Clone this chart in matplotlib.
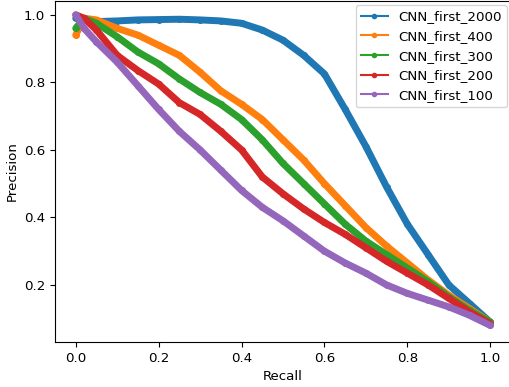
import matplotlib
matplotlib.use("Agg")
import matplotlib.pyplot as plt
from matplotlib.lines import Line2D

plt.rcParams["font.size"] = 9.6

# recall grid
recall = [0.0, 0.02, 0.05, 0.10, 0.15, 0.20, 0.25, 0.30, 0.35, 0.40, 0.45,
          0.50, 0.55, 0.60, 0.65, 0.70, 0.75, 0.80, 0.85, 0.90, 0.95, 1.0]

prec_2000 = [0.99, 0.985, 0.98, 0.982, 0.985, 0.986, 0.987, 0.985, 0.982, 0.975, 0.955,
             0.925, 0.88, 0.825, 0.72, 0.61, 0.49, 0.38, 0.29, 0.20, 0.145, 0.09]
prec_400 = [0.94, 0.99, 0.985, 0.96, 0.94, 0.91, 0.88, 0.83, 0.775, 0.735, 0.69,
            0.63, 0.57, 0.50, 0.435, 0.37, 0.315, 0.265, 0.215, 0.17, 0.13, 0.09]
prec_300 = [0.96, 0.99, 0.975, 0.935, 0.89, 0.855, 0.81, 0.77, 0.735, 0.69, 0.63,
            0.56, 0.50, 0.44, 0.38, 0.33, 0.29, 0.25, 0.21, 0.165, 0.125, 0.09]
prec_200 = [1.0, 0.99, 0.955, 0.88, 0.835, 0.795, 0.74, 0.705, 0.655, 0.60, 0.52,
            0.47, 0.425, 0.385, 0.35, 0.31, 0.27, 0.235, 0.20, 0.16, 0.12, 0.085]
prec_100 = [1.0, 0.96, 0.92, 0.86, 0.79, 0.72, 0.655, 0.60, 0.54, 0.48, 0.43,
            0.39, 0.345, 0.30, 0.265, 0.235, 0.20, 0.175, 0.155, 0.135, 0.11, 0.08]

labels = ["CNN_first_2000", "CNN_first_400", "CNN_first_300", "CNN_first_200", "CNN_first_100"]
series = [prec_2000, prec_400, prec_300, prec_200, prec_100]
colors = ["#1f77b4", "#ff7f0e", "#2ca02c", "#d62728", "#9467bd"]

fig = plt.figure(figsize=(5.09, 3.87), dpi=100)
ax = fig.add_axes([55 / 509, 45 / 387, 456 / 509, 341 / 387])

for p, c in zip(series, colors):
    ax.plot(recall, p, color=c, linewidth=5, marker=".", markersize=8,
            solid_joinstyle="round", solid_capstyle="round")

ax.set_xlim(-0.05, 1.05)
ax.set_ylim(0.031, 1.041)
ax.set_xticks([0.0, 0.2, 0.4, 0.6, 0.8, 1.0])
ax.set_yticks([0.2, 0.4, 0.6, 0.8, 1.0])
ax.set_xlabel("Recall")
ax.set_ylabel("Precision")

handles = [Line2D([], [], color=c, marker=".", label=l) for c, l in zip(colors, labels)]
ax.legend(handles=handles, loc="upper right", borderaxespad=0.3)

fig.savefig("out.png", dpi=100)
